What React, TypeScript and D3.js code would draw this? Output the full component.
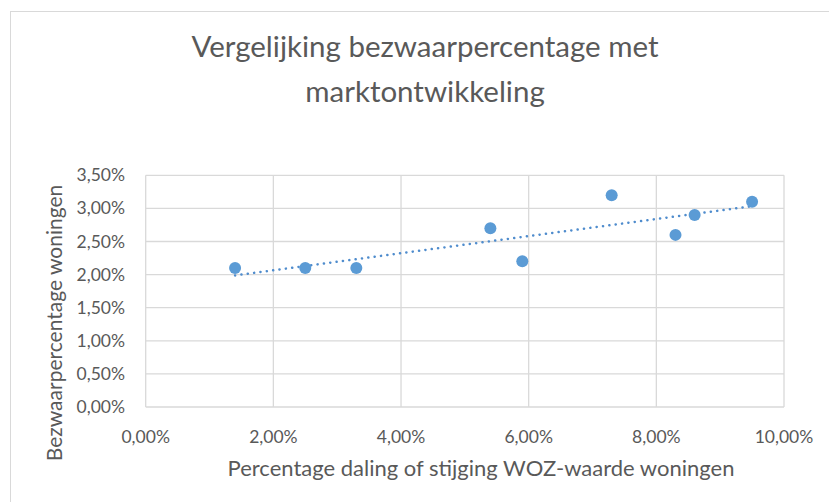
import { useRef, useEffect } from "react";
import * as d3 from "d3";

const TITLE_LINES = ["Vergelijking bezwaarpercentage met", "marktontwikkeling"];
const X_LABEL = "Percentage daling of stijging WOZ-waarde woningen";
const Y_LABEL = "Bezwaarpercentage woningen";

// percentage change WOZ value (x) vs objection percentage (y)
const X_VALUES = [1.4, 2.5, 3.3, 5.4, 5.9, 7.3, 8.3, 8.6, 9.5];
const Y_VALUES = [2.1, 2.1, 2.1, 2.7, 2.2, 3.2, 2.6, 2.9, 3.1];

const X_TICKS = [0, 2, 4, 6, 8, 10];
const Y_TICKS = [0, 0.5, 1, 1.5, 2, 2.5, 3, 3.5];

const W = 829;
const H = 502;
const FONT = "Lato, 'Open Sans', sans-serif";
const TEXT = "#595959";
const GRID = "#d9d9d9";
const BLUE = "#5b9bd5";

const fmt = (v: number) => v.toFixed(2).replace(".", ",") + "%";

export default function App() {
  const svgRef = useRef<SVGSVGElement>(null);

  useEffect(() => {
    if (!svgRef.current) return;
    const svg = d3.select(svgRef.current);
    svg.selectAll("*").remove();

    const x = d3.scaleLinear().domain([0, 10]).range([145.7, 784]);
    const y = d3.scaleLinear().domain([0, 3.5]).range([407, 175.3]);

    // chart frame
    svg.append("rect").attr("width", W).attr("height", H).attr("fill", "#fff");
    svg
      .append("rect")
      .attr("x", 10.5)
      .attr("y", 11.5)
      .attr("width", W + 20)
      .attr("height", H + 20)
      .attr("fill", "#fff")
      .attr("stroke", "#d9d9d9");

    // title
    svg
      .append("g")
      .selectAll("text")
      .data(TITLE_LINES)
      .join("text")
      .attr("x", 425)
      .attr("y", (_, i) => 57 + i * 45)
      .attr("text-anchor", "middle")
      .attr("font-family", FONT)
      .attr("font-size", 29.5)
      .attr("fill", TEXT)
      .text((d) => d);

    // gridlines
    const grid = svg.append("g").attr("stroke", GRID).attr("stroke-width", 1.3);
    grid
      .selectAll("line.h")
      .data(Y_TICKS)
      .join("line")
      .attr("x1", x(0))
      .attr("x2", x(10))
      .attr("y1", (d) => y(d))
      .attr("y2", (d) => y(d));
    grid
      .selectAll("line.v")
      .data(X_TICKS)
      .join("line")
      .attr("y1", y(0))
      .attr("y2", y(3.5))
      .attr("x1", (d) => x(d))
      .attr("x2", (d) => x(d));

    // tick labels
    svg
      .append("g")
      .selectAll("text")
      .data(Y_TICKS)
      .join("text")
      .attr("x", 125)
      .attr("y", (d) => y(d) + 6)
      .attr("text-anchor", "end")
      .attr("font-family", FONT)
      .attr("font-size", 17.5)
      .attr("fill", TEXT)
      .text((d) => fmt(d));

    svg
      .append("g")
      .selectAll("text")
      .data(X_TICKS)
      .join("text")
      .attr("x", (d) => x(d))
      .attr("y", 443)
      .attr("text-anchor", "middle")
      .attr("font-family", FONT)
      .attr("font-size", 17.5)
      .attr("fill", TEXT)
      .text((d) => fmt(d));

    // axis titles
    svg
      .append("text")
      .attr("x", 481)
      .attr("y", 476)
      .attr("text-anchor", "middle")
      .attr("font-family", FONT)
      .attr("font-size", 22)
      .attr("fill", TEXT)
      .text(X_LABEL);

    svg
      .append("text")
      .attr("transform", "translate(62,323) rotate(-90)")
      .attr("text-anchor", "middle")
      .attr("font-family", FONT)
      .attr("font-size", 21)
      .attr("fill", TEXT)
      .text(Y_LABEL);

    // linear trendline (least squares)
    const mx = d3.mean(X_VALUES)!;
    const my = d3.mean(Y_VALUES)!;
    const sxy = d3.sum(X_VALUES, (v, i) => (v - mx) * (Y_VALUES[i] - my));
    const sxx = d3.sum(X_VALUES, (v) => (v - mx) ** 2);
    const slope = sxy / sxx;
    const icpt = my - slope * mx;
    const [xmin, xmax] = d3.extent(X_VALUES) as [number, number];
    const line = d3
      .line<number>()
      .x((d) => x(d))
      .y((d) => y(icpt + slope * d));
    svg
      .append("path")
      .datum([xmin, xmax])
      .attr("d", line)
      .attr("fill", "none")
      .attr("stroke", "#4f8ccd")
      .attr("stroke-width", 2.5)
      .attr("stroke-linecap", "round")
      .attr("stroke-dasharray", "0.1 6.3");

    // points
    svg
      .append("g")
      .selectAll("circle")
      .data(X_VALUES)
      .join("circle")
      .attr("cx", (d) => x(d))
      .attr("cy", (_, i) => y(Y_VALUES[i]))
      .attr("r", 6)
      .attr("fill", BLUE);
  }, []);

  return (
    <svg
      ref={svgRef}
      width={W}
      height={H}
      style={{ position: "absolute", left: 0, top: 0, display: "block" }}
    />
  );
}
